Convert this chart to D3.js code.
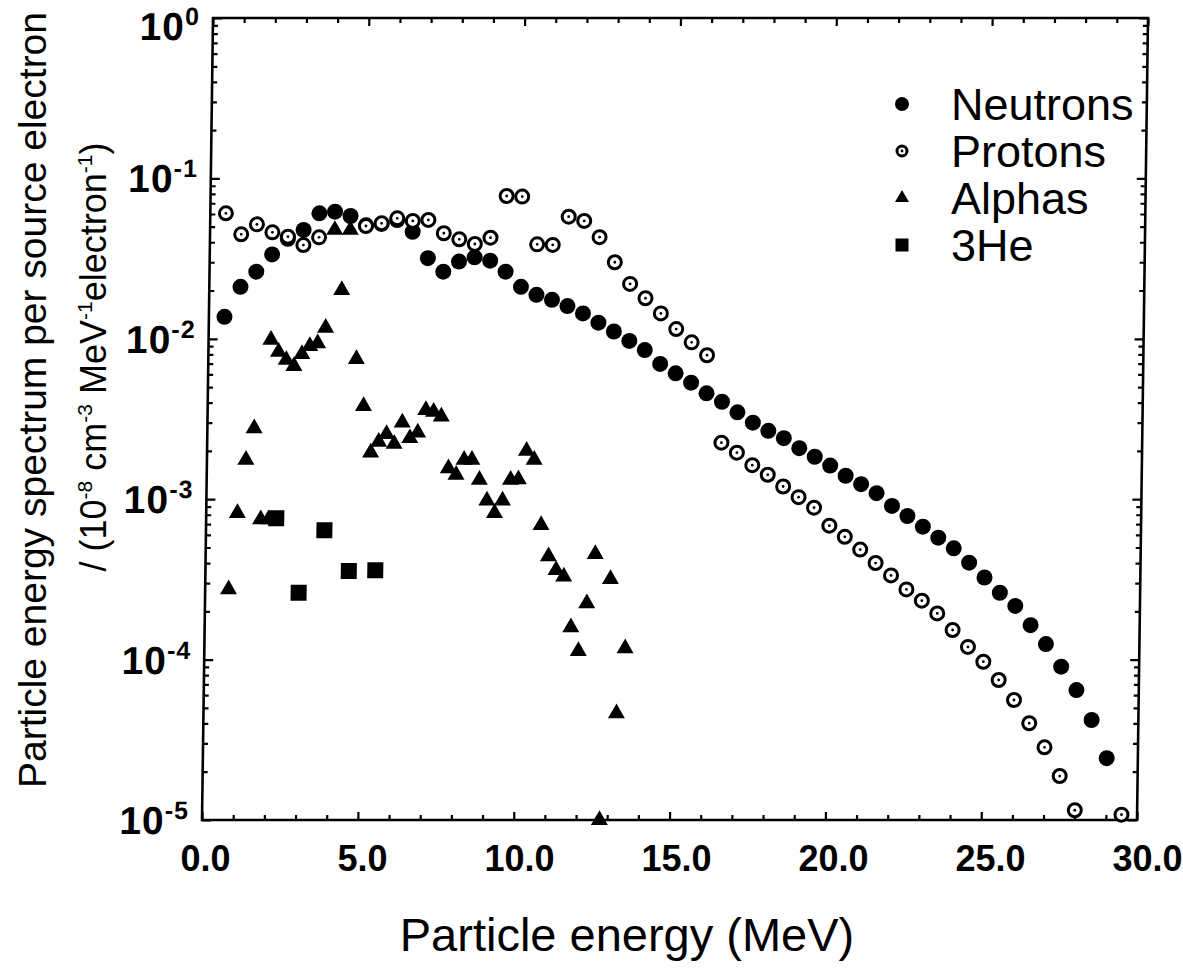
<!DOCTYPE html>
<html><head><meta charset="utf-8">
<script src="https://cdn.jsdelivr.net/npm/d3@7/dist/d3.min.js"></script>
<style>body{margin:0;background:#fff} text{font-family:"Liberation Sans",Arial,Helvetica,sans-serif}</style>
</head><body>
<svg id="c" width="1183" height="970"></svg>
<script>
// ---- data ----
const neutronE = [0.5,1.0,1.5,2.0,2.5,3.0,3.5,4.0,4.5,5.0,5.5,6.0,6.5,7.0,7.5,8.0,8.5,9.0,9.5,10.0,10.5,11.0,11.5,12.0,12.5,13.0,13.5,14.0,14.5,15.0,15.5,16.0,16.5,17.0,17.5,18.0,18.5,19.0,19.5,20.0,20.5,21.0,21.5,22.0,22.5,23.0,23.5,24.0,24.5,25.0,25.5,26.0,26.5,27.0,27.5,28.0,28.5,29.0];
const neutronV = [0.0137,0.0211,0.0262,0.0336,0.042,0.0477,0.0606,0.062,0.0583,0.051,0.052,0.055,0.0465,0.0318,0.0262,0.0303,0.0322,0.0307,0.0262,0.0211,0.0188,0.0175,0.016,0.0144,0.0126,0.0111,0.0097,0.0085,0.00697,0.00609,0.00533,0.00457,0.00405,0.00348,0.0030,0.00267,0.0024,0.00208,0.00184,0.00162,0.0014,0.00124,0.00109,0.000908,0.000786,0.000674,0.000576,0.000494,0.000402,0.000325,0.000261,0.000216,0.000164,0.000125,0.0000903,0.0000646,0.000042,0.0000243];

const protonE = [0.5,1.0,1.5,2.0,2.5,3.0,3.5,5.0,5.5,6.0,6.5,7.0,7.5,8.0,8.5,9.0,9.5,10.0,10.5,11.0,11.5,12.0,12.5,13.0,13.5,14.0,14.5,15.0,15.5,16.0,16.5,17.0,17.5,18.0,18.5,19.0,19.5,20.0,20.5,21.0,21.5,22.0,22.5,23.0,23.5,24.0,24.5,25.0,25.5,26.0,26.5,27.0,27.5,28.0,29.5];
const protonV = [0.0606,0.0448,0.0517,0.0461,0.0433,0.0384,0.0429,0.0505,0.0525,0.0564,0.0543,0.0551,0.0455,0.0417,0.039,0.0427,0.0777,0.077,0.0388,0.0385,0.0577,0.0543,0.043,0.030,0.022,0.0179,0.0144,0.0115,0.0095,0.0079,0.00225,0.00195,0.00163,0.00142,0.0012,0.00103,0.000885,0.000684,0.000583,0.000485,0.0004,0.000335,0.000274,0.000233,0.000194,0.000153,0.00012,0.000097,0.0000746,0.000056,0.0000401,0.0000284,0.0000188,0.0000115,0.0000108];

const alphaE = [0.75,1.0,1.25,1.5,1.75,2.0,2.0,2.25,2.5,2.75,3.0,3.25,3.5,3.75,4.0,4.25,4.5,4.75,5.0,5.25,5.5,5.75,6.0,6.25,6.5,6.75,7.0,7.25,7.5,7.75,8.0,8.25,8.5,8.75,9.0,9.25,9.5,9.75,10.0,10.25,10.5,10.75,11.0,11.25,11.5,11.75,12.0,12.25,12.5,12.75,13.0,13.25,13.5];
const alphaV = [0.000274,0.00082,0.00176,0.00277,0.00075,0.00984,0.00075,0.0083,0.00738,0.00676,0.00804,0.00902,0.00937,0.0117,0.0477,0.0201,0.0477,0.00748,0.00381,0.00195,0.00228,0.00255,0.00221,0.0030,0.0024,0.0026,0.0036,0.00351,0.00327,0.00156,0.00142,0.00176,0.00176,0.00132,0.00098,0.00082,0.00098,0.00132,0.00133,0.0020,0.00176,0.00069,0.00044,0.000362,0.000329,0.000159,0.000113,0.000224,0.000455,0.00001,0.000318,0.0000462,0.0001175];

const he3E = [2.25,3.0,3.8,4.6,5.45];
const he3V = [0.00076,0.000261,0.00064,0.000357,0.00036];

const xTickLabels = ["0.0","5.0","10.0","15.0","20.0","25.0","30.0"];
const yTickExponents = ["0","-1","-2","-3","-4","-5"];
const legendLabels = ["Neutrons","Protons","Alphas","3He"];
const xTitle = "Particle energy (MeV)";
const yTitle1 = "Particle energy spectrum per source electron";

// ---- chart ----
const svg = d3.select("#c");
const T = 18, B = 820;
const x = d3.scaleLinear().domain([0,30]).range([213.25,1148.25]);
const y = d3.scaleLog().domain([1e-5,1]).range([B,T]);
const skewDeg = Math.atan(-11/802)*180/Math.PI;
const g = svg.append("g").attr("transform",`skewX(${skewDeg})`);

// ticks
const xMinor = d3.range(0,31,1);
const logTicks = [];
for (let d=-5; d<0; d++) for (let k=1;k<10;k++) logTicks.push(k*Math.pow(10,d));
logTicks.push(1);
const isMajorX = v => v%5===0;
const isMajorY = v => Math.abs(Math.log10(v)-Math.round(Math.log10(v)))<1e-9;

function styleAxis(sel){ sel.select(".domain").remove(); sel.selectAll("line").attr("stroke","#000").attr("stroke-width",2.2); }

const bAx = g.append("g").attr("transform",`translate(0,${B})`)
  .call(d3.axisBottom(x).tickValues(xMinor).tickSize(-5).tickFormat(""));
styleAxis(bAx); bAx.selectAll(".tick line").attr("y2",d=>isMajorX(d)?-8:-5);
const tAx = g.append("g").attr("transform",`translate(0,${T})`)
  .call(d3.axisTop(x).tickValues(xMinor).tickSize(-5).tickFormat(""));
styleAxis(tAx); tAx.selectAll(".tick line").attr("y2",d=>isMajorX(d)?8:5);
const lAx = g.append("g").attr("transform",`translate(${x(0)},0)`)
  .call(d3.axisLeft(y).tickValues(logTicks).tickSize(-5).tickFormat(""));
styleAxis(lAx); lAx.selectAll(".tick line").attr("x2",d=>isMajorY(d)?9:5);
const rAx = g.append("g").attr("transform",`translate(${x(30)},0)`)
  .call(d3.axisRight(y).tickValues(logTicks).tickSize(-5).tickFormat(""));
styleAxis(rAx); rAx.selectAll(".tick line").attr("x2",d=>isMajorY(d)?-9:-5);

g.append("rect").attr("x",x(0)).attr("y",T).attr("width",x(30)-x(0)).attr("height",B-T)
  .attr("fill","none").attr("stroke","#000").attr("stroke-width",2.6);

// y tick labels
const yl = g.append("g");
yTickExponents.forEach(e=>{
  const v = Math.pow(10,+e);
  const base = Math.max(y(v)+14, 40);
  const t = yl.append("text").attr("x",x(0)-13).attr("y",base)
    .attr("text-anchor","end").attr("font-weight","bold").attr("font-size",39)
    .attr("letter-spacing",1);
  t.append("tspan").text("10");
  t.append("tspan").attr("font-size",25).attr("dy",-15).text(e);
});

// x tick labels (printed slightly off the tick grid in the original)
const xl = d3.scaleLinear().domain([0,30]).range([205,1147]);
const xlAx = svg.append("g").attr("transform",`translate(0,844)`)
  .call(d3.axisBottom(xl).tickValues([0,5,10,15,20,25,30]).tickSize(0).tickPadding(0)
     .tickFormat((d,i)=>xTickLabels[i]));
xlAx.select(".domain").remove();
xlAx.selectAll("text").attr("font-size",36).attr("font-weight","bold").attr("fill","#000")
  .attr("font-family","Liberation Sans, Arial, sans-serif").attr("dy","0.75em");

// titles
svg.append("text").attr("x",627).attr("y",951).attr("text-anchor","middle")
  .attr("font-size",47).text(xTitle);
svg.append("text").attr("transform","translate(46,400) rotate(-90)").attr("text-anchor","middle")
  .attr("font-size",39).text(yTitle1);
const y2 = svg.append("text").attr("transform","translate(106,357) rotate(-90)").attr("text-anchor","middle")
  .attr("font-size",36);
y2.append("tspan").text("/ (10");
y2.append("tspan").attr("font-size",21).attr("dy",-14).text("-8");
y2.append("tspan").attr("dy",14).text(" cm");
y2.append("tspan").attr("font-size",21).attr("dy",-14).text("-3");
y2.append("tspan").attr("dy",14).text(" MeV");
y2.append("tspan").attr("font-size",21).attr("dy",-14).text("-1");
y2.append("tspan").attr("dy",14).text("electron");
y2.append("tspan").attr("font-size",21).attr("dy",-14).text("-1");
y2.append("tspan").attr("dy",14).text(")");

// marker drawers
const tri = (s)=>d3.symbol(d3.symbolTriangle, s*s*Math.sqrt(3)/4)();
const sq = (s)=>d3.symbol(d3.symbolSquare, s*s)();
function neutron(sel,r){ sel.append("circle").attr("r",r).attr("fill","#000"); }
function proton(sel,r){ sel.append("circle").attr("r",r).attr("fill","#fff").attr("stroke","#000").attr("stroke-width",3);
  sel.append("circle").attr("r",1.4).attr("fill","#000"); }
function alpha(sel,s){ sel.append("path").attr("d",tri(s)).attr("fill","#000"); }
function he3(sel,s){ sel.append("path").attr("d",sq(s)).attr("fill","#000"); }

const data = (E,V)=>E.map((e,i)=>({e,v:V[i]}));
const pos = d=>`translate(${x(d.e)},${y(d.v)})`;
g.append("g").selectAll("g").data(data(neutronE,neutronV)).join("g").attr("transform",pos).each(function(){neutron(d3.select(this),8);});
g.append("g").selectAll("g").data(data(protonE,protonV)).join("g").attr("transform",pos).each(function(){proton(d3.select(this),6.5);});
g.append("g").selectAll("g").data(data(alphaE,alphaV)).join("g").attr("transform",pos).each(function(){alpha(d3.select(this),17);});
g.append("g").selectAll("g").data(data(he3E,he3V)).join("g").attr("transform",pos).each(function(){he3(d3.select(this),16);});

// legend
const drawers = [s=>neutron(s,7), s=>proton(s,5), s=>alpha(s,14), s=>he3(s,13)];
const leg = svg.append("g");
legendLabels.forEach((lab,i)=>{
  const cy = 104 + i*47;
  const m = leg.append("g").attr("transform",`translate(902,${cy})`);
  drawers[i](m);
  leg.append("text").attr("x",951).attr("y",cy+16).attr("font-size",45).text(lab);
});
</script>
</body></html>
